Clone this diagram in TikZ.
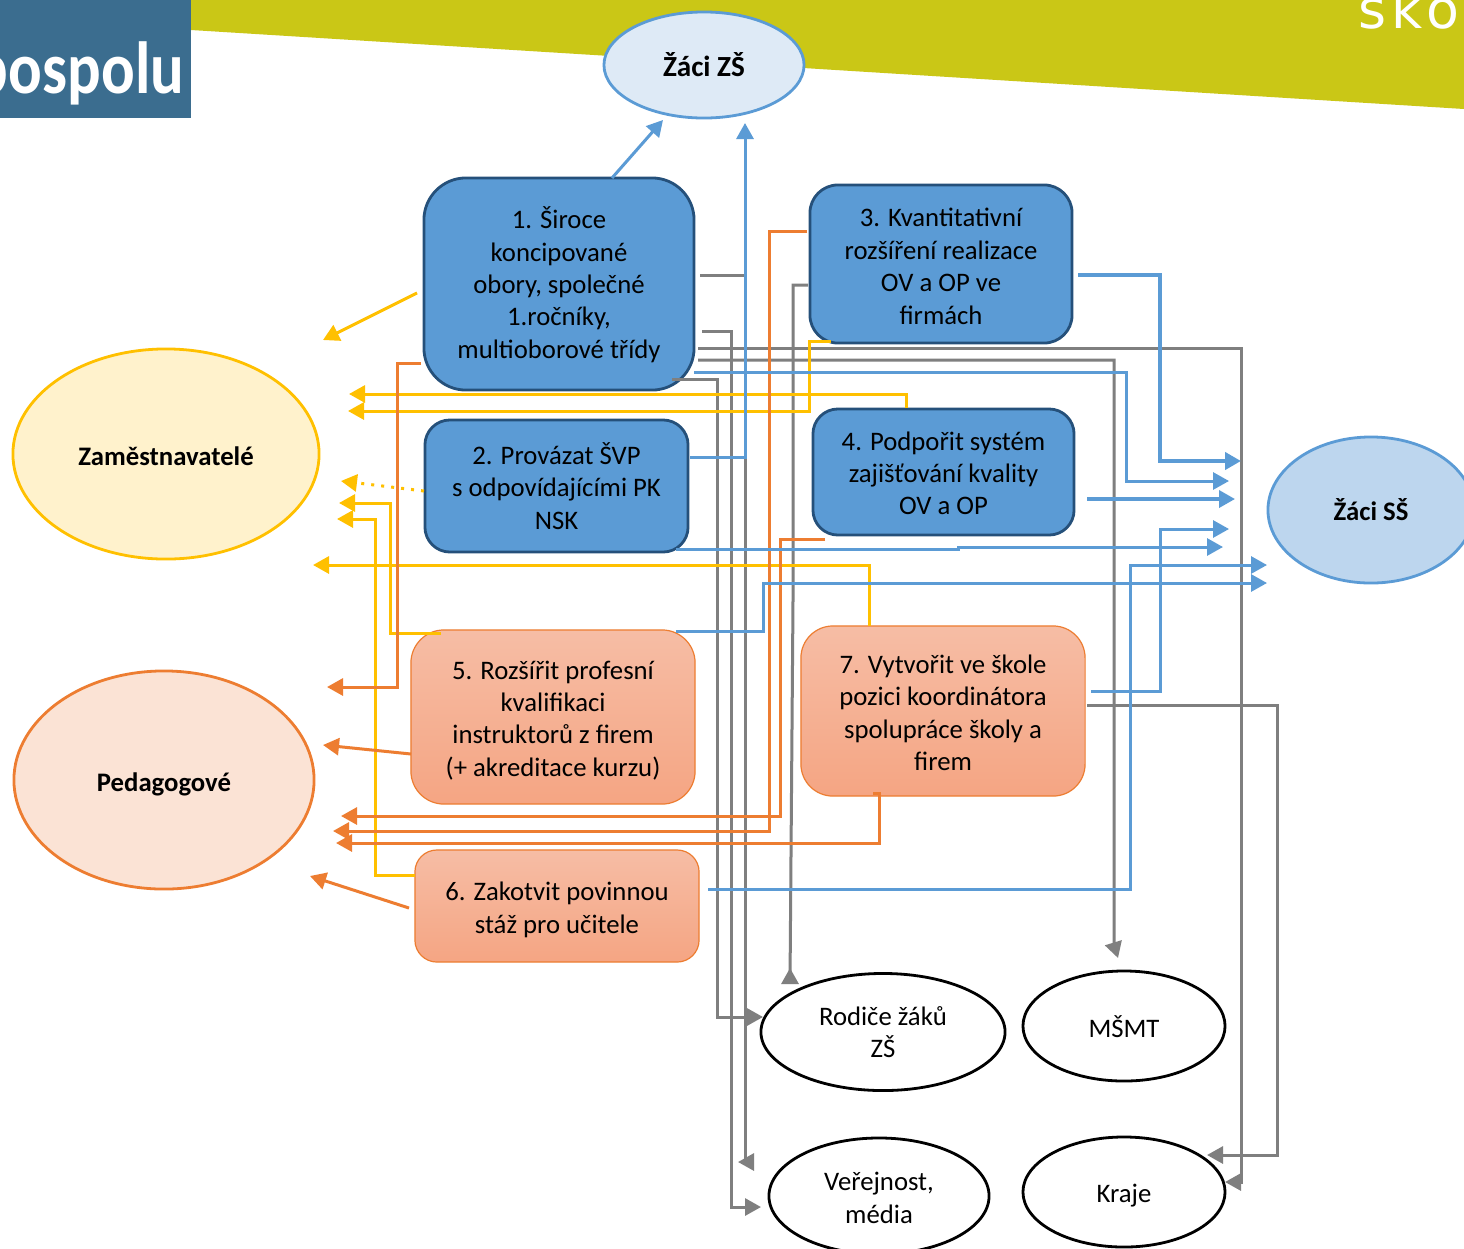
\documentclass[tikz,border=0pt]{standalone}
\usepackage{graphicx}
\usepackage{fontspec}
\setmainfont{Carlito}
\newfontfamily\skolafont[LetterSpace=10]{DejaVu Sans}
\usetikzlibrary{arrows.meta,shapes.geometric}
\definecolor{cblue}{HTML}{5B9BD5}
\definecolor{cdark}{HTML}{25507A}
\definecolor{cgray}{HTML}{7F7F7F}
\definecolor{cyell}{HTML}{FFC000}
\definecolor{corng}{HTML}{ED7D31}
\definecolor{ctop}{HTML}{F6BDA5}
\definecolor{cbot}{HTML}{F5A583}
\newcommand{\dropfirst}[1]{\mbox{}\\[-#1]}
\tikzset{
  every node/.style={font=\fontsize{7.6}{9.2}\selectfont,align=center,inner sep=0pt,outer sep=0pt},
  tdown/.style={execute at begin node={\rule{0pt}{#1}}},
  conn/.style={line width=0.03cm,line join=miter,>={Triangle[length=0.16cm,width=0.17cm]}},
  blueline/.style={conn,cblue},
  grayline/.style={conn,cgray},
  yellline/.style={conn,cyell},
  orngline/.style={conn,corng},
  bluebox/.style={draw=cdark,fill=cblue,line width=0.028cm,rectangle},
  orngbox/.style={draw=corng,top color=ctop,bottom color=cbot,line width=0.012cm,rectangle},
  blob/.style={ellipse,line width=0.028cm},
  boldblob/.style={blob,font=\bfseries\fontsize{7.6}{9.2}\selectfont},
  whiteblob/.style={blob,draw=black,fill=white},
}
\begin{document}
\begin{tikzpicture}[x=0.01cm,y=-0.01cm]
    \useasboundingbox(0,0)rectangle(1464,1248);
    \clip(0,0)rectangle(1464,1248);
    \fill[white](0,0)rectangle(1464,1248);
    % header
    \fill[fill={rgb,255:red,202;green,199;blue,22}](191,0)--(1464,0)--(1464,109)--(191,30)--cycle;
    \fill[fill={rgb,255:red,59;green,109;blue,143}](0,0)rectangle(191,118);
    \node[anchor=base east,text=white,font=\bfseries\fontsize{21}{25}\selectfont](logo)at(184,93){\scalebox{.85}[1]{pospolu}};
    \node[anchor=base west,text=white,font=\skolafont\fontsize{15.3}{18}\selectfont](skola)at(1358,28){skol};
    % groups
    \node[boldblob,draw=cblue,fill={rgb,255:red,222;green,234;blue,246},minimum width=2cm,minimum height=1.06cm,font=\bfseries\fontsize{8.3}{10}\selectfont](zs)at(704,65){Žáci ZŠ};
    \node[boldblob,tdown=6.6pt,draw=cyell,fill={rgb,255:red,255;green,242;blue,204},minimum width=3.06cm,minimum height=2.1cm](zam)at(166,454){Zaměstnavatelé};
    \node[boldblob,tdown=7.8pt,draw=corng,fill={rgb,255:red,251;green,227;blue,213},minimum width=3cm,minimum height=2.18cm](ped)at(164,780){Pedagogové};
    \node[boldblob,draw=cblue,fill={rgb,255:red,189;green,214;blue,238},minimum width=2.06cm,minimum height=1.46cm](ss)at(1371,510){Žáci SŠ};
    \node[whiteblob,minimum width=2.44cm,minimum height=1.17cm](rod)at(883,1032){Rodiče žáků\\ZŠ};
    \node[whiteblob,tdown=6.6pt,minimum width=2.02cm,minimum height=1.1cm](msmt)at(1124,1026){MŠMT};
    \node[whiteblob,minimum width=2.2cm,minimum height=1.16cm](ver)at(879,1196){\dropfirst{2.85pt}Veřejnost,\\média};
    \node[whiteblob,tdown=7.5pt,minimum width=2.02cm,minimum height=1.1cm](kraje)at(1124,1192){Kraje};
    % goals
    \node[bluebox,rounded corners=0.42cm,minimum width=2.7cm,minimum height=2.12cm](g1)at(559,284){\dropfirst{2.6pt}1. Široce\\koncipované\\obory, společné\\1.ročníky,\\multioborové třídy};
    \node[bluebox,rounded corners=0.25cm,minimum width=2.63cm,minimum height=1.32cm](g2)at(556.5,486){2. Provázat ŠVP\\s odpovídajícími PK\\NSK};
    \node[bluebox,rounded corners=0.28cm,minimum width=2.62cm,minimum height=1.58cm](g3)at(941,264){\dropfirst{2.6pt}3. Kvantitativní\\rozšíření realizace\\OV a OP ve\\firmách};
    \node[bluebox,rounded corners=0.25cm,minimum width=2.61cm,minimum height=1.26cm](g4)at(943.5,472){\dropfirst{3.1pt}4. Podpořit systém\\zajišťování kvality\\OV a OP};
    \node[orngbox,rounded corners=0.33cm,minimum width=2.84cm,minimum height=1.74cm](g5)at(553,717){\dropfirst{2pt}5. Rozšířit profesní\\kvalifikaci\\instruktorů z firem\\(+ akreditace kurzu)};
    \node[orngbox,rounded corners=0.22cm,minimum width=2.84cm,minimum height=1.12cm](g6)at(557,906){\dropfirst{1.7pt}6. Zakotvit povinnou\\stáž pro učitele};
    \node[orngbox,rounded corners=0.32cm,minimum width=2.84cm,minimum height=1.7cm](g7)at(943,711){\dropfirst{2.85pt}7. Vytvořit ve škole\\pozici koordinátora\\spolupráce školy a\\firem};
    % free ends of the connectors
    \foreach \n/\x/\y in {
      b1/612/178,zsa/663/120,b2/690/457,zsb/745/123,b3/1078/275,ssa/1241/461,
      b4/694/372,ssb/1229/481,b5/1087/499,ssc/1235/499,b6/676/549,ssd/1223/547,
      b7/1091/691,sse/1229/529,b8/708/889,ssf/1267/565,b9/676/631,ssg/1267/583,
      c1/700/275,vera/738/1162,c2/702/331,verb/761/1207,c3/698/348,krb/1225/1182,
      c4/698/360,msm/1118/958,c5/672/379,roa/763/1017,c6/808/285,rob/790/968,
      c7/1087/705,kra/1207/1155,
      y1/417/293,zaa/323/340,y2/906/408,zab/349/394,y3/831/341,zac/348/411,
      y4/424/491,zad/341/481,y5/441/633,zae/339/503,y6/415/875,zaf/337/519,
      y7/869/626,zag/313/565,
      o1/421/363,pea/327/687,o2/411/754,peb/323/745,o3/409/908,pec/310/876,
      o4/825/539,ped/341/816,o5/807/231,pee/333/831,o6/873/793,pef/336/843}
      \coordinate(\n)at(\x,\y);
    % gray
    \draw[grayline,->](c1)-|(745,1162)--(vera);
    \draw[grayline,->](c2)-|(731,1207)--(verb);
    \draw[grayline,->](c3)-|(1241,1182)--(krb);
    \draw[grayline,->](c4)-|(1114,945)--(msm);
    \draw[grayline,->](c5)-|(717,1017)--(roa);
    \draw[grayline,->](c6)-|(793,600)--(790,983)--(rob);
    \draw[grayline,->](c7)-|(1277,1155)--(kra);
    % yellow
    \draw[yellline,->](y1)--(zaa);
    \draw[yellline,->](y2)|-(zab);
    \draw[yellline,->](y3)-|(809,411)--(zac);
    \draw[yellline,->,dotted](y4)--(zad);
    \draw[yellline,->](y5)-|(390,503)--(zae);
    \draw[yellline,->](y6)-|(375,519)--(zaf);
    \draw[yellline,->](y7)|-(zag);
    % orange
    \draw[orngline,->](o1)-|(397,687)--(pea);
    \draw[orngline,->](o2)--(peb);
    \draw[orngline,->](o3)--(pec);
    \draw[orngline,->](o4)-|(780,816)--(ped);
    \draw[orngline,->](o5)-|(769,831)--(pee);
    \draw[orngline,->](o6)-|(879,843)--(pef);
    % blue
    \draw[blueline,->](b1)--(zsa);
    \draw[blueline,->](b2)-|(zsb);
    \draw[blueline,->,line width=0.04cm](b3)-|(1160,461)--(ssa);
    \draw[blueline,->](b4)-|(1126,481)--(ssb);
    \draw[blueline,->,line width=0.035cm](b5)--(ssc);
    \draw[blueline,->](b6)-|(958,547)--(ssd);
    \draw[blueline,->](b7)-|(1160,529)--(sse);
    \draw[blueline,->](b8)-|(1130,565)--(ssf);
    \draw[blueline,->](b9)-|(763,583)--(ssg);
  \end{tikzpicture}
\end{document}
